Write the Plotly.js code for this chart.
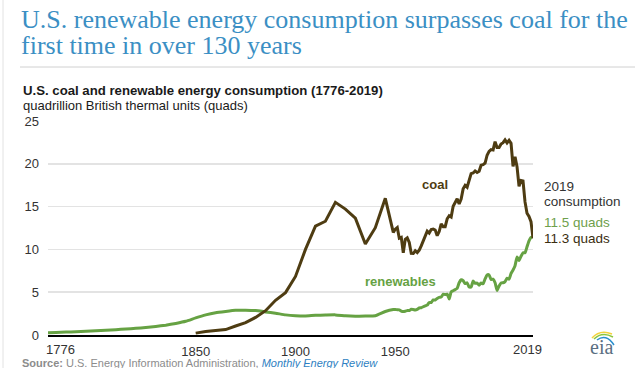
<!DOCTYPE html>
<html>
<head>
<meta charset="utf-8">
<script src="https://cdn.plot.ly/plotly-3.0.1.min.js"></script>
<style>html,body{margin:0;padding:0;background:#fff;}#chart{width:635px;height:368px;}</style>
</head>
<body>
<div id="chart"></div>
<script>
// ---- data (quadrillion Btu) ----
const coalYears = [1850,1855,1860,1865,1870,1875,1880,1885,1890,1895,1900,1905,1910,1915,1920,1925,1930,1935,1940,1945,
  1949,1950,1951,1952,1953,1954,1955,1956,1957,1958,1959,1960,1961,1962,1963,1964,1965,1966,1967,1968,1969,
  1970,1971,1972,1973,1974,1975,1976,1977,1978,1979,1980,1981,1982,1983,1984,1985,1986,1987,1988,1989,
  1990,1991,1992,1993,1994,1995,1996,1997,1998,1999,2000,2001,2002,2003,2004,2005,2006,2007,2008,2009,
  2010,2011,2012,2013,2014,2015,2016,2017,2018,2019];
const coalValues = [0.22,0.42,0.52,0.63,1.05,1.44,2.05,2.84,4.06,4.95,6.84,10.0,12.71,13.29,15.5,14.71,13.64,10.63,12.54,15.97,
  11.98,12.35,12.55,11.31,11.41,9.61,11.17,11.35,10.82,9.53,9.52,9.84,9.62,9.91,10.41,10.96,11.58,12.14,11.91,12.33,12.38,
  12.27,11.6,12.08,12.97,12.66,12.66,13.58,13.92,13.77,15.04,15.42,15.91,15.32,15.89,17.07,17.48,17.26,18.01,18.85,18.93,
  19.17,18.99,19.12,19.84,19.91,20.09,21.0,21.45,21.66,21.62,22.58,21.91,21.9,22.32,22.47,22.8,22.45,22.75,22.39,19.69,
  20.83,19.66,17.38,18.04,17.99,15.55,14.23,13.84,13.24,11.31];

const renewYears = [1776,1780,1785,1790,1795,1800,1805,1810,1815,1820,1825,1830,1835,1840,1845,
  1850,1855,1860,1865,1870,1875,1880,1885,1890,1895,1900,1905,1910,1915,1920,1925,1930,1935,1940,1945,
  1949,1950,1951,1952,1953,1954,1955,1956,1957,1958,1959,1960,1961,1962,1963,1964,1965,1966,1967,1968,1969,
  1970,1971,1972,1973,1974,1975,1976,1977,1978,1979,1980,1981,1982,1983,1984,1985,1986,1987,1988,1989,
  1990,1991,1992,1993,1994,1995,1996,1997,1998,1999,2000,2001,2002,2003,2004,2005,2006,2007,2008,2009,
  2010,2011,2012,2013,2014,2015,2016,2017,2018,2019];
const renewValues = [0.25,0.3,0.34,0.39,0.44,0.5,0.56,0.62,0.7,0.78,0.88,1.0,1.15,1.35,1.6,
  2.0,2.35,2.6,2.75,2.88,2.9,2.85,2.7,2.55,2.35,2.25,2.22,2.3,2.33,2.35,2.25,2.2,2.22,2.25,2.75,
  2.97,2.98,2.95,2.94,2.79,2.74,2.78,2.85,2.86,3.0,2.97,2.93,3.0,3.16,3.18,3.3,3.4,3.5,3.78,3.79,4.1,
  4.08,4.27,4.4,4.43,4.77,4.72,4.77,4.2,5.04,5.17,5.3,5.45,6.1,6.45,6.35,6.0,6.1,5.6,5.6,6.3,
  6.04,6.07,5.82,6.08,5.99,6.56,7.01,7.02,6.49,6.52,6.1,5.2,5.73,6.08,6.1,6.23,6.64,6.52,7.19,7.6,
  8.1,9.1,8.7,9.2,9.6,9.6,10.3,11.0,11.4,11.5];

const xTicks = [1850,1900,1950];
const endTicks = ['1776','2019'];
const yTicks = [0,5,10,15,20,25];

// ---- styling ----
const COAL = '#4e3c12';
const GREEN = '#66a243';
const SANS = 'Liberation Sans, Arial, sans-serif';
const SERIF = 'Liberation Serif, Times New Roman, serif';

// pixel -> paper helpers (plot area: x 48..533, y 121..335)
const L = 48, R = 533, T = 121, B = 335;
const px = x => (x - L) / (R - L);
const py = y => (B - y) / (B - T);

const traces = [
  {x: renewYears, y: renewValues, type: 'scatter', mode: 'lines',
   line: {color: GREEN, width: 3, shape: 'spline', smoothing: 0.4}, hoverinfo: 'skip'},
  {x: coalYears, y: coalValues, type: 'scatter', mode: 'lines',
   line: {color: COAL, width: 3}, hoverinfo: 'skip'}
];

const ann = (x, y, text, font, xanchor, extra) => Object.assign({
  xref: 'paper', yref: 'paper', x: px(x), y: py(y), text: text, font: font,
  xanchor: xanchor || 'left', yanchor: 'middle', showarrow: false}, extra || {});

const annotations = [
  ann(19, 19.5, 'U.S. renewable energy consumption surpasses coal for the', {family: SERIF, size: 26, color: '#3b8fc4'}),
  ann(19, 45.5, 'first time in over 130 years', {family: SERIF, size: 26, color: '#3b8fc4'}),
  ann(21, 90, '<b>U.S. coal and renewable energy consumption (1776-2019)</b>', {family: SANS, size: 13.2, color: '#1a1a1a'}),
  ann(21, 105, 'quadrillion British thermal units (quads)', {family: SANS, size: 13, color: '#1a1a1a'}),
  {x: 1970, y: 17.6, xref: 'x', yref: 'y', text: '<b>coal</b>', showarrow: false,
   font: {family: SANS, size: 13, color: COAL}},
  {x: 1952.5, y: 6.3, xref: 'x', yref: 'y', text: '<b>renewables</b>', showarrow: false,
   font: {family: SANS, size: 13, color: GREEN}},
  ann(542, 186, '2019', {family: SANS, size: 13.5, color: '#333'}),
  ann(542, 201, 'consumption', {family: SANS, size: 13.5, color: '#333'}),
  ann(542, 222, '11.5 quads', {family: SANS, size: 13.5, color: '#6e9f4c'}),
  ann(542, 238, '11.3 quads', {family: SANS, size: 13.5, color: '#3a2e10'}),
  {x: +endTicks[0], xref: 'x', yref: 'paper', y: py(349), text: endTicks[0], showarrow: false,
   xanchor: 'left', yanchor: 'middle', xshift: -4, font: {family: SANS, size: 13, color: '#333'}},
  {x: +endTicks[1], xref: 'x', yref: 'paper', y: py(349), text: endTicks[1], showarrow: false,
   xanchor: 'center', yanchor: 'middle', xshift: -6, font: {family: SANS, size: 13, color: '#333'}},
  ann(20, 363, '<b>Source:</b> U.S. Energy Information Administration, <span style="color:#2e7fc2"><i>Monthly Energy Review</i></span>',
      {family: SANS, size: 11, color: '#8c8c8c'}),
  ann(601, 347, 'eia', {family: SERIF, size: 20, color: '#5b6f82'}, 'center')
];

const pth = pts => 'M ' + px(pts[0][0]) + ' ' + py(pts[0][1]) + ' Q ' + px(pts[1][0]) + ' ' + py(pts[1][1]) + ' ' + px(pts[2][0]) + ' ' + py(pts[2][1]);

const shapes = [
  {type: 'line', xref: 'paper', yref: 'paper', x0: px(20), x1: px(635), y0: py(67), y1: py(67),
   line: {color: '#d0d0d0', width: 1}},
  {type: 'line', xref: 'paper', yref: 'paper', x0: px(3), x1: px(3), y0: py(0), y1: py(368),
   line: {color: '#e2e2e2', width: 1}},
  {type: 'path', xref: 'paper', yref: 'paper', path: pth([[592, 338], [600, 329], [612, 334]]),
   line: {color: '#f2d23c', width: 1.5}},
  {type: 'path', xref: 'paper', yref: 'paper', path: pth([[594, 339], [602, 331], [613, 337]]),
   line: {color: '#8cc63f', width: 1.5}},
  {type: 'path', xref: 'paper', yref: 'paper', path: pth([[597, 340], [606, 333], [614, 345]]),
   line: {color: '#2a8fcf', width: 1.5}}
];

const layout = {
  width: 635, height: 368,
  margin: {l: L, r: 635 - R, t: T, b: 368 - B, pad: 0},
  paper_bgcolor: '#fff', plot_bgcolor: '#fff',
  showlegend: false,
  font: {family: SANS, size: 13, color: '#333'},
  xaxis: {range: [1776, 2019], tickvals: xTicks, ticktext: xTicks.map(String), showgrid: false,
          zeroline: false, showline: true, linecolor: '#000', linewidth: 2, ticks: '',
          tickfont: {family: SANS, size: 13, color: '#333'}, ticklabelstandoff: 3, fixedrange: true},
  yaxis: {range: [0, 25], tickvals: yTicks, showgrid: true, gridcolor: '#e3e3e3', gridwidth: 1.5,
          zeroline: false, showline: false, ticks: '', ticklabelstandoff: 8,
          tickfont: {family: SANS, size: 13, color: '#333'}, fixedrange: true},
  annotations: annotations,
  shapes: shapes
};

Plotly.newPlot('chart', traces, layout, {displayModeBar: false, staticPlot: true});
</script>
</body>
</html>
